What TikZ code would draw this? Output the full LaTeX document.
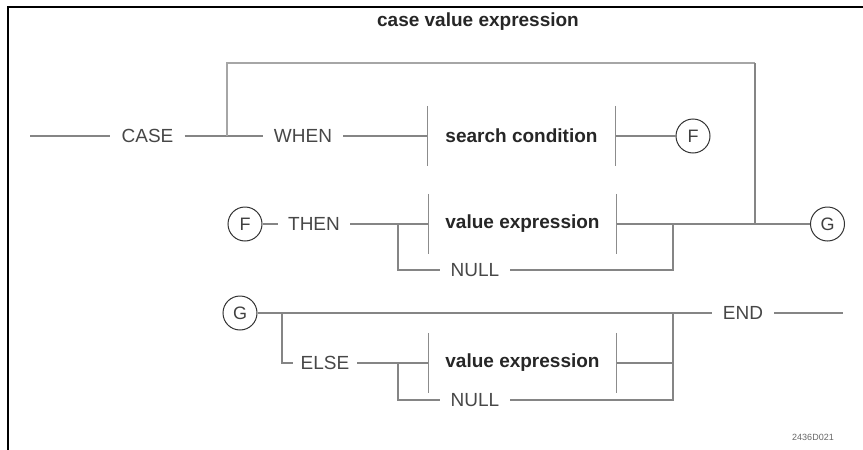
\documentclass[tikz,border=0pt]{standalone}
\usepackage{fontspec}
\setmainfont{Liberation Sans}
\begin{document}
\begin{tikzpicture}[x=1pt,y=-1pt,
  conn/.style={draw=black!48, line width=1.2pt},
  loopline/.style={draw=black!35, line width=2pt},
  barline/.style={draw=black!45, line width=1.3pt},
  kw/.style={inner xsep=11pt, inner ysep=0pt, text=black!72, font=\fontsize{19}{22}\selectfont},
  synbox/.style={minimum width=188pt, minimum height=60pt, inner sep=0pt, text=black!85, font=\fontsize{19}{22}\selectfont\bfseries},
  conncircle/.style={circle, draw=black!80, line width=1pt, minimum size=34pt, inner sep=0pt, text=black!75, font=\fontsize{18}{20}\selectfont},
  titletext/.style={text=black!85, font=\fontsize{19}{22}\selectfont\bfseries},
  frameline/.style={draw=black, line width=2.5pt}
]
\useasboundingbox (0,0) rectangle (863,450);
\draw[frameline] (8,451) -- (8,7) -- (864,7);

\node[titletext] (title) at (478,22) {case value expression};

% Row 1
\coordinate (start) at (30,136);
\node[kw] (case) at (147.5,136) {CASE};
\coordinate (j1) at (227,136);
\node[kw] (when) at (303,136) {WHEN};
\node[synbox] (sc) at (521.5,136) {search condition};
\node[conncircle] (f1) at (693,136) {F};
\coordinate (loopR) at (755,63);
\coordinate (j2) at (755,224);

% Row 2
\node[conncircle] (f2) at (245,224) {F};
\node[kw,inner xsep=10pt] (then) at (314,224) {THEN};
\coordinate (b1) at (398,224);
\node[synbox] (vx1) at (522.5,224) {value expression};
\node[kw] (null1) at (475,270) {NULL};
\coordinate (j3) at (673,224);
\node[conncircle] (g1) at (827.5,224) {G};

% Row 3
\node[conncircle] (g2) at (240,313) {G};
\coordinate (j4) at (282,313);
\coordinate (j5) at (673,313);
\node[kw] (endkw) at (743,313) {END};
\coordinate (finish) at (843,313);
\node[kw,inner xsep=8pt] (else) at (325,363) {ELSE};
\coordinate (b2) at (398,363);
\node[synbox] (vx2) at (522.5,363) {value expression};
\node[kw] (null2) at (475,400) {NULL};

\node[text=black!60, font=\fontsize{9}{10}\selectfont] (code) at (813,437) {2436D021};

% bars of the boxes
\foreach \b in {sc,vx1,vx2}{
  \draw[barline] (\b.north west) -- (\b.south west);
  \draw[barline] (\b.north east) -- (\b.south east);
}

% connectors row 1
\draw[conn] (start) -- (case.west);
\draw[conn] (case.east) -- (j1) -- (when.west);
\draw[conn] (when.east) -- (sc.west);
\draw[conn] (sc.east) -- (f1.west);
\draw[loopline] (j1) |- (loopR);
\draw[conn] (loopR) -- (j2);

% connectors row 2
\draw[conn] (f2.east) -- (then.west);
\draw[conn] (then.east) -- (vx1.west);
\draw[conn] (b1) |- (null1.west);
\draw[conn] (null1.east) -| (j3);
\draw[conn] (vx1.east) -- (j3) -- (j2) -- (g1.west);

% connectors row 3
\draw[conn] (g2.east) -- (j4) -- (j5) -- (endkw.west);
\draw[conn] (endkw.east) -- (finish);
\draw[conn] (j4) |- (else.west);
\draw[conn] (else.east) -- (vx2.west);
\draw[conn] (b2) |- (null2.west);
\draw[conn] (null2.east) -| (j5);
\draw[conn] (vx2.east) -- (vx2.east -| j5);
\end{tikzpicture}
\end{document}
